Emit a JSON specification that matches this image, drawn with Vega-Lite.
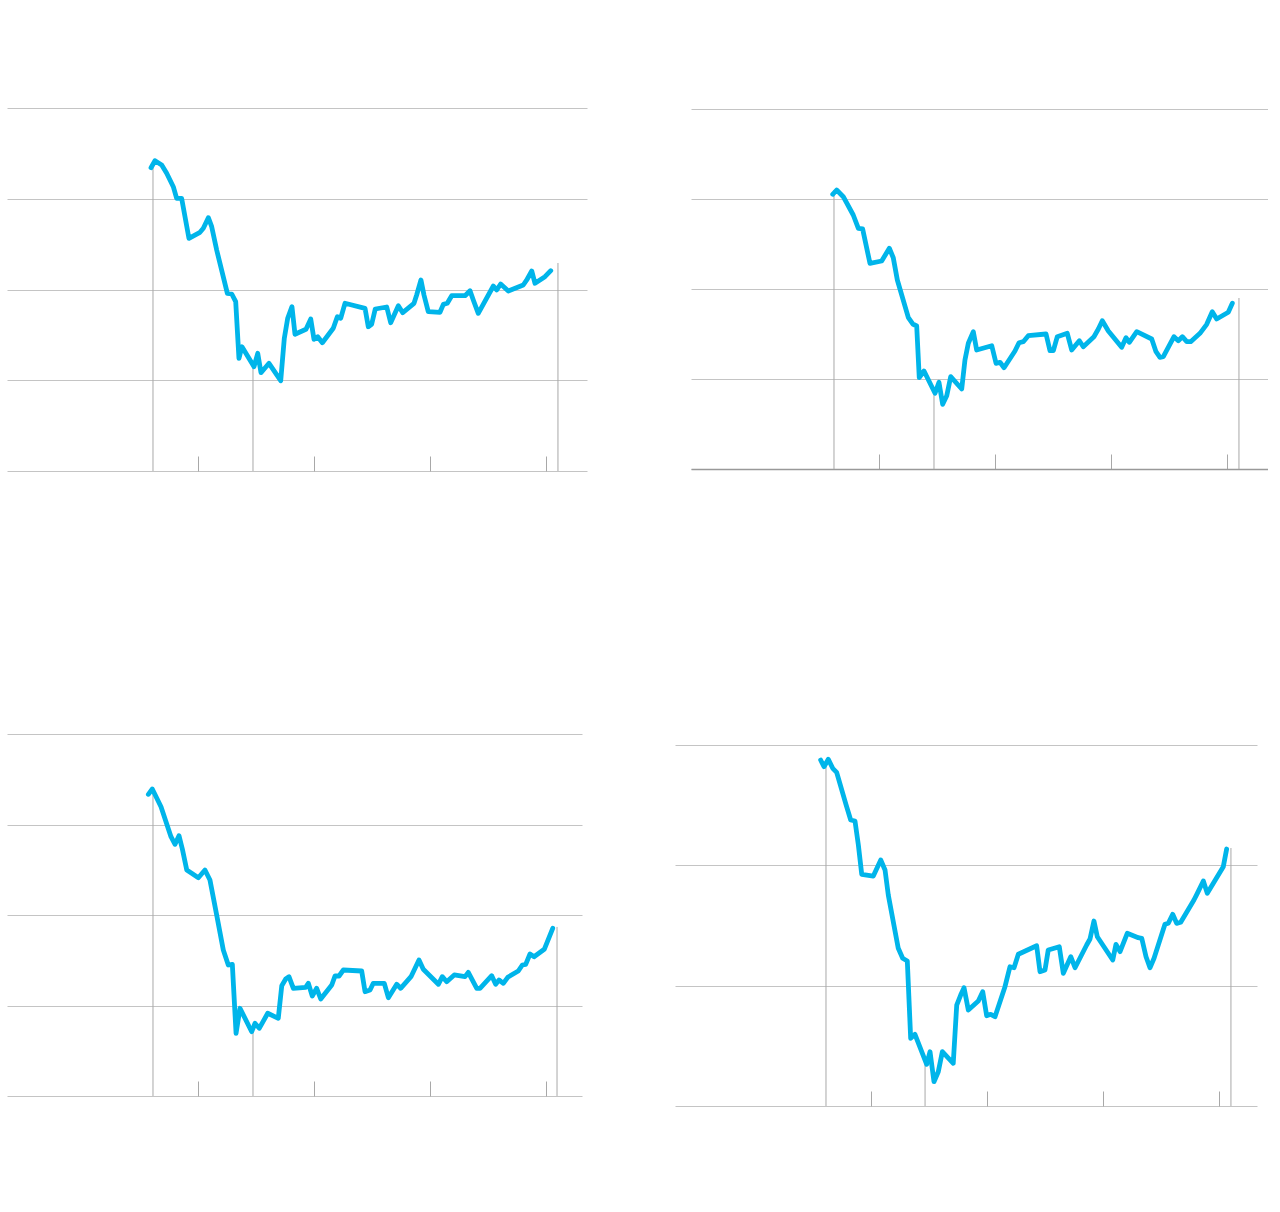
{
  "$schema": "https://vega.github.io/schema/vega-lite/v6.json",
  "background": "white",
  "padding": {"left": 7, "top": 108, "right": 0, "bottom": 0},
  "autosize": {"type": "pad"},
  "config": {
    "view": {"stroke": null},
    "line": {"color": "#00b5ea", "strokeWidth": 4.8, "strokeCap": "round", "strokeJoin": "round"},
    "rule": {"color": "#a8a8a8", "strokeWidth": 1},
    "axis": {"labels": false, "title": null, "minExtent": 0, "maxExtent": 0, "gridColor": "#c4c4c4", "gridWidth": 1, "tickColor": "#a8a8a8", "tickWidth": 1}
  },
  "datasets": {
    "p1": [
      {"t":2007.595,"v":83.55},{"t":2007.629,"v":85.48},{"t":2007.687,"v":84.30},{"t":2007.730,"v":82.01},{"t":2007.787,"v":78.32},{"t":2007.816,"v":75.12},{"t":2007.859,"v":75.12},{"t":2007.922,"v":64.10},{"t":2008.017,"v":65.76},{"t":2008.046,"v":66.86},{"t":2008.089,"v":69.78},{"t":2008.118,"v":67.30},{"t":2008.161,"v":60.88},{"t":2008.253,"v":48.95},{"t":2008.291,"v":48.76},{"t":2008.325,"v":46.64},{"t":2008.353,"v":31.05},{"t":2008.379,"v":34.24},{"t":2008.483,"v":28.73},{"t":2008.515,"v":32.42},{"t":2008.543,"v":27.08},{"t":2008.612,"v":29.67},{"t":2008.713,"v":24.88},{"t":2008.744,"v":36.56},{"t":2008.773,"v":42.07},{"t":2008.810,"v":45.26},{"t":2008.836,"v":37.66},{"t":2008.931,"v":39.04},{"t":2008.972,"v":41.87},{"t":2009.000,"v":36.28},{"t":2009.032,"v":37.00},{"t":2009.072,"v":35.34},{"t":2009.166,"v":39.31},{"t":2009.201,"v":42.51},{"t":2009.230,"v":42.07},{"t":2009.267,"v":46.20},{"t":2009.440,"v":44.82},{"t":2009.468,"v":39.75},{"t":2009.497,"v":40.41},{"t":2009.528,"v":44.63},{"t":2009.627,"v":45.18},{"t":2009.661,"v":40.85},{"t":2009.727,"v":45.54},{"t":2009.765,"v":43.61},{"t":2009.862,"v":46.20},{"t":2009.885,"v":48.48},{"t":2009.922,"v":52.62},{"t":2009.948,"v":48.48},{"t":2009.985,"v":43.88},{"t":2010.086,"v":43.72},{"t":2010.115,"v":45.92},{"t":2010.149,"v":46.20},{"t":2010.187,"v":48.29},{"t":2010.302,"v":48.29},{"t":2010.345,"v":49.67},{"t":2010.373,"v":47.11},{"t":2010.416,"v":43.44},{"t":2010.546,"v":50.96},{"t":2010.575,"v":49.86},{"t":2010.609,"v":51.51},{"t":2010.675,"v":49.59},{"t":2010.804,"v":51.24},{"t":2010.834,"v":52.62},{"t":2010.877,"v":55.10},{"t":2010.905,"v":51.71},{"t":2010.991,"v":53.53},{"t":2011.041,"v":55.18}
    ],
    "p2": [
      {"t":2007.601,"v":76.30},{"t":2007.635,"v":77.50},{"t":2007.692,"v":75.64},{"t":2007.778,"v":70.56},{"t":2007.822,"v":66.86},{"t":2007.859,"v":66.67},{"t":2007.922,"v":57.14},{"t":2008.023,"v":57.78},{"t":2008.089,"v":61.31},{"t":2008.123,"v":58.69},{"t":2008.158,"v":52.50},{"t":2008.253,"v":42.03},{"t":2008.291,"v":40.28},{"t":2008.325,"v":39.72},{"t":2008.347,"v":25.36},{"t":2008.388,"v":27.22},{"t":2008.483,"v":21.03},{"t":2008.517,"v":24.08},{"t":2008.549,"v":17.97},{"t":2008.584,"v":20.36},{"t":2008.618,"v":25.64},{"t":2008.713,"v":22.22},{"t":2008.741,"v":30.28},{"t":2008.770,"v":34.92},{"t":2008.813,"v":38.14},{"t":2008.842,"v":33.06},{"t":2008.972,"v":34.25},{"t":2009.009,"v":29.36},{"t":2009.043,"v":29.64},{"t":2009.078,"v":28.14},{"t":2009.172,"v":32.78},{"t":2009.207,"v":35.08},{"t":2009.244,"v":35.36},{"t":2009.287,"v":37.03},{"t":2009.440,"v":37.50},{"t":2009.474,"v":32.86},{"t":2009.503,"v":32.86},{"t":2009.537,"v":36.75},{"t":2009.623,"v":37.69},{"t":2009.661,"v":33.06},{"t":2009.727,"v":35.64},{"t":2009.761,"v":33.97},{"t":2009.853,"v":36.75},{"t":2009.891,"v":38.89},{"t":2009.925,"v":41.19},{"t":2009.977,"v":38.33},{"t":2010.092,"v":33.81},{"t":2010.129,"v":36.47},{"t":2010.158,"v":35.19},{"t":2010.222,"v":38.14},{"t":2010.351,"v":36.11},{"t":2010.388,"v":32.58},{"t":2010.422,"v":31.03},{"t":2010.451,"v":31.19},{"t":2010.543,"v":36.75},{"t":2010.580,"v":35.64},{"t":2010.615,"v":36.75},{"t":2010.653,"v":35.36},{"t":2010.687,"v":35.36},{"t":2010.767,"v":37.69},{"t":2010.825,"v":40.19},{"t":2010.873,"v":43.69},{"t":2010.911,"v":41.67},{"t":2011.011,"v":43.53},{"t":2011.046,"v":46.03}
    ],
    "p3": [
      {"t":2007.572,"v":83.34},{"t":2007.606,"v":84.81},{"t":2007.681,"v":79.92},{"t":2007.767,"v":71.63},{"t":2007.802,"v":69.53},{"t":2007.836,"v":71.91},{"t":2007.865,"v":68.23},{"t":2007.903,"v":62.43},{"t":2008.003,"v":60.30},{"t":2008.060,"v":62.43},{"t":2008.103,"v":59.67},{"t":2008.161,"v":50.00},{"t":2008.218,"v":40.33},{"t":2008.261,"v":36.19},{"t":2008.296,"v":36.38},{"t":2008.328,"v":17.32},{"t":2008.362,"v":24.23},{"t":2008.463,"v":17.76},{"t":2008.491,"v":20.08},{"t":2008.528,"v":18.70},{"t":2008.601,"v":22.85},{"t":2008.692,"v":21.46},{"t":2008.722,"v":30.47},{"t":2008.756,"v":32.32},{"t":2008.784,"v":32.96},{"t":2008.822,"v":29.75},{"t":2008.928,"v":30.03},{"t":2008.951,"v":31.13},{"t":2008.985,"v":27.62},{"t":2009.023,"v":29.75},{"t":2009.058,"v":26.80},{"t":2009.153,"v":30.66},{"t":2009.181,"v":33.15},{"t":2009.216,"v":33.15},{"t":2009.253,"v":34.81},{"t":2009.411,"v":34.53},{"t":2009.440,"v":28.81},{"t":2009.483,"v":29.28},{"t":2009.511,"v":31.13},{"t":2009.606,"v":31.13},{"t":2009.641,"v":27.15},{"t":2009.713,"v":30.86},{"t":2009.747,"v":29.75},{"t":2009.836,"v":32.96},{"t":2009.871,"v":35.28},{"t":2009.905,"v":37.57},{"t":2009.942,"v":35.00},{"t":2010.072,"v":30.86},{"t":2010.106,"v":32.96},{"t":2010.144,"v":31.57},{"t":2010.209,"v":33.43},{"t":2010.302,"v":32.96},{"t":2010.330,"v":34.17},{"t":2010.403,"v":29.75},{"t":2010.431,"v":29.75},{"t":2010.532,"v":33.23},{"t":2010.566,"v":30.86},{"t":2010.595,"v":32.04},{"t":2010.632,"v":31.13},{"t":2010.670,"v":32.79},{"t":2010.761,"v":34.53},{"t":2010.796,"v":36.19},{"t":2010.825,"v":36.38},{"t":2010.862,"v":39.23},{"t":2010.897,"v":38.48},{"t":2010.985,"v":40.52},{"t":2011.058,"v":46.33}
    ],
    "p4": [
      {"t":2007.566,"v":71.88},{"t":2007.595,"v":70.49},{"t":2007.632,"v":72.03},{"t":2007.670,"v":70.16},{"t":2007.704,"v":69.33},{"t":2007.784,"v":62.68},{"t":2007.825,"v":59.42},{"t":2007.862,"v":59.21},{"t":2007.891,"v":54.23},{"t":2007.920,"v":48.14},{"t":2008.020,"v":47.78},{"t":2008.084,"v":51.11},{"t":2008.121,"v":49.03},{"t":2008.149,"v":43.84},{"t":2008.235,"v":32.76},{"t":2008.273,"v":30.69},{"t":2008.313,"v":30.13},{"t":2008.342,"v":14.07},{"t":2008.379,"v":14.90},{"t":2008.480,"v":8.66},{"t":2008.509,"v":11.28},{"t":2008.543,"v":5.05},{"t":2008.580,"v":7.13},{"t":2008.615,"v":11.28},{"t":2008.709,"v":8.87},{"t":2008.739,"v":20.98},{"t":2008.773,"v":23.06},{"t":2008.802,"v":24.58},{"t":2008.839,"v":19.94},{"t":2008.925,"v":21.81},{"t":2008.963,"v":23.75},{"t":2008.997,"v":18.76},{"t":2009.032,"v":19.05},{"t":2009.069,"v":18.55},{"t":2009.155,"v":24.79},{"t":2009.198,"v":28.94},{"t":2009.233,"v":28.73},{"t":2009.270,"v":31.52},{"t":2009.428,"v":33.30},{"t":2009.457,"v":27.90},{"t":2009.500,"v":28.26},{"t":2009.528,"v":32.41},{"t":2009.623,"v":33.10},{"t":2009.658,"v":27.57},{"t":2009.722,"v":31.02},{"t":2009.759,"v":28.73},{"t":2009.859,"v":33.45},{"t":2009.888,"v":34.70},{"t":2009.922,"v":38.44},{"t":2009.951,"v":35.17},{"t":2010.084,"v":30.33},{"t":2010.112,"v":33.59},{"t":2010.147,"v":32.06},{"t":2010.209,"v":35.88},{"t":2010.304,"v":34.97},{"t":2010.334,"v":34.84},{"t":2010.371,"v":31.02},{"t":2010.405,"v":28.73},{"t":2010.440,"v":30.69},{"t":2010.534,"v":37.75},{"t":2010.563,"v":37.96},{"t":2010.601,"v":39.83},{"t":2010.635,"v":37.96},{"t":2010.670,"v":38.17},{"t":2010.784,"v":42.80},{"t":2010.813,"v":44.19},{"t":2010.865,"v":46.75},{"t":2010.899,"v":44.19},{"t":2011.037,"v":49.72},{"t":2011.066,"v":53.39}
    ],
    "r1": [{"t":2007.612,"v":84.3},{"t":2008.474,"v":28.7},{"t":2011.103,"v":57.3}],
    "r2": [{"t":2007.612,"v":77.5},{"t":2008.474,"v":21.0},{"t":2011.103,"v":47.5}],
    "r3": [{"t":2007.612,"v":84.5},{"t":2008.474,"v":17.7},{"t":2011.095,"v":46.7}],
    "r4": [{"t":2007.612,"v":70.9},{"t":2008.466,"v":9.0},{"t":2011.103,"v":53.6}]
  },
  "spacing": 262,
  "vconcat": [
    {
      "spacing": 104,
      "hconcat": [
        {
          "width": 580, "height": 363,
          "encoding": {
            "x": {"field": "t", "type": "quantitative", "scale": {"domain": [2006.3534, 2011.3534], "nice": false, "zero": false}, "axis": {"values": [2008, 2009, 2010, 2011], "grid": false, "domain": false, "tickSize": -15}},
            "y": {"field": "v", "type": "quantitative", "scale": {"domain": [0, 100], "nice": false}, "axis": {"values": [0, 25, 50, 75, 100], "grid": true, "ticks": false, "domain": false}}
          },
          "layer": [
            {"data": {"name": "r1"}, "mark": "rule", "encoding": {"y2": {"datum": 0}}},
            {"data": {"name": "p1"}, "mark": "line"}
          ]
        },
        {
          "width": 577, "height": 361,
          "encoding": {
            "x": {"field": "t", "type": "quantitative", "scale": {"domain": [2006.3793, 2011.3534], "nice": false, "zero": false}, "axis": {"values": [2008, 2009, 2010, 2011], "grid": false, "domain": true, "domainColor": "#999999", "domainWidth": 1.5, "tickSize": -15}},
            "y": {"field": "v", "type": "quantitative", "scale": {"domain": [0, 100.28], "nice": false}, "axis": {"values": [0, 25, 50, 75, 100], "grid": true, "ticks": false, "domain": false}}
          },
          "layer": [
            {"data": {"name": "r2"}, "mark": "rule", "encoding": {"y2": {"datum": 0}}},
            {"data": {"name": "p2"}, "mark": "line"}
          ]
        }
      ]
    },
    {
      "spacing": 93,
      "hconcat": [
        {
          "width": 575, "height": 362,
          "encoding": {
            "x": {"field": "t", "type": "quantitative", "scale": {"domain": [2006.3534, 2011.3103], "nice": false, "zero": false}, "axis": {"values": [2008, 2009, 2010, 2011], "grid": false, "domain": false, "tickSize": -15}},
            "y": {"field": "v", "type": "quantitative", "scale": {"domain": [0, 100], "nice": false}, "axis": {"values": [0, 25, 50, 75, 100], "grid": true, "ticks": false, "domain": false}}
          },
          "layer": [
            {"data": {"name": "r3"}, "mark": "rule", "encoding": {"y2": {"datum": 0}}},
            {"data": {"name": "p3"}, "mark": "line"}
          ]
        },
        {
          "width": 582, "height": 372,
          "encoding": {
            "x": {"field": "t", "type": "quantitative", "scale": {"domain": [2006.3103, 2011.3276], "nice": false, "zero": false}, "axis": {"values": [2008, 2009, 2010, 2011], "grid": false, "domain": false, "tickSize": -15}},
            "y": {"field": "v", "type": "quantitative", "scale": {"domain": [0, 77.29], "nice": false}, "axis": {"values": [0, 25, 50, 75], "grid": true, "ticks": false, "domain": false}}
          },
          "layer": [
            {"data": {"name": "r4"}, "mark": "rule", "encoding": {"y2": {"datum": 0}}},
            {"data": {"name": "p4"}, "mark": "line"}
          ]
        }
      ]
    }
  ]
}
